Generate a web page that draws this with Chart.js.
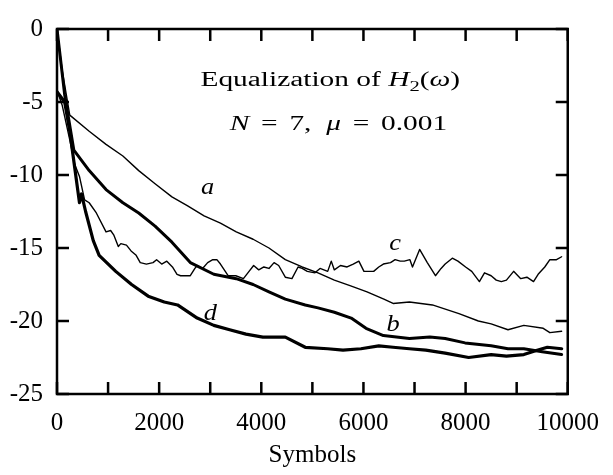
<!DOCTYPE html>
<html>
<head>
<meta charset="utf-8">
<script src="https://cdn.jsdelivr.net/npm/chart.js@4.4.1/dist/chart.umd.min.js"></script>
<style>
  html, body { margin: 0; padding: 0; background: #fff; }
  #c { display: block; }
  .fl { font-family: 'Liberation Serif'; position: absolute; left: -9999px; }
</style>
</head>
<body>
<span class="fl">Symbols 0123</span><span class="fl" style="font-style:italic">abcd</span>
<canvas id="c" width="613" height="475"></canvas>
<script>
// ---- data ----
const aX = [0, 100, 250, 630, 960, 1290, 1600, 1920, 2250, 2550, 2880, 3200, 3510, 3840, 4150, 4470, 4800, 5110, 5430, 5750, 6070, 6400, 6580, 6900, 7350, 7870, 8250, 8500, 8830, 9140, 9520, 9650, 9880];
const aY = [0, -2.8, -5.9, -7.0, -7.9, -8.7, -9.7, -10.6, -11.5, -12.1, -12.8, -13.3, -13.9, -14.4, -15.0, -15.8, -16.3, -16.7, -17.2, -17.6, -18.0, -18.5, -18.8, -18.7, -18.9, -19.5, -20.0, -20.2, -20.6, -20.3, -20.5, -20.8, -20.7];

const bX = [0, 150, 330, 630, 960, 1290, 1600, 1920, 2250, 2610, 3070, 3510, 3840, 4150, 4470, 4860, 5110, 5430, 5760, 6050, 6390, 6900, 7300, 7600, 7990, 8500, 8830, 9140, 9500, 9880];
const bY = [0, -4.5, -8.3, -9.7, -11.0, -11.9, -12.6, -13.5, -14.6, -16.0, -16.8, -17.1, -17.5, -18.0, -18.5, -18.9, -19.1, -19.4, -19.8, -20.5, -21.0, -21.2, -21.1, -21.2, -21.5, -21.7, -21.9, -21.9, -22.1, -22.3];

const cX = [0, 100, 250, 350, 440, 540, 630, 770, 960, 1050, 1110, 1200, 1250, 1360, 1450, 1550, 1630, 1750, 1880, 1950, 2050, 2150, 2260, 2350, 2420, 2610, 2700, 2745, 2850, 2950, 3050, 3130, 3200, 3350, 3500, 3650, 3760, 3850, 3950, 4050, 4150, 4250, 4340, 4470, 4600, 4720, 4800, 4900, 5050, 5150, 5300, 5370, 5430, 5550, 5680, 5800, 5910, 6010, 6200, 6300, 6390, 6530, 6620, 6720, 6800, 6910, 6960, 7100, 7250, 7410, 7520, 7600, 7740, 7850, 8000, 8120, 8270, 8370, 8500, 8600, 8700, 8800, 8940, 9080, 9200, 9330, 9420, 9550, 9650, 9780, 9880];
const cY = [-4.2, -5.2, -7.6, -9.3, -10.1, -11.7, -11.9, -12.6, -13.9, -13.8, -14.1, -14.9, -14.7, -14.8, -15.2, -15.5, -16.0, -16.1, -16.0, -15.8, -16.1, -15.9, -16.3, -16.8, -16.9, -16.9, -16.4, -16.2, -16.4, -16.0, -15.8, -15.8, -16.1, -16.9, -16.9, -17.1, -16.6, -16.2, -16.5, -16.3, -16.4, -16.0, -16.2, -17.0, -17.1, -16.3, -16.4, -16.6, -16.7, -16.4, -16.6, -15.9, -16.5, -16.2, -16.3, -16.1, -15.9, -16.6, -16.6, -16.3, -16.1, -16.0, -15.8, -15.9, -15.9, -15.8, -16.3, -15.1, -16.0, -16.9, -16.4, -16.1, -15.7, -15.9, -16.3, -16.6, -17.3, -16.7, -16.9, -17.2, -17.3, -17.2, -16.6, -17.1, -17.0, -17.3, -16.8, -16.3, -15.8, -15.8, -15.6];

const dX = [0, 150, 250, 440, 480, 560, 710, 825, 1150, 1460, 1785, 2100, 2360, 2745, 3070, 3380, 3700, 4030, 4470, 4860, 5300, 5600, 5950, 6300, 6580, 6900, 7220, 7600, 8060, 8500, 8800, 9140, 9400, 9600, 9880];
const dY = [-4.3, -5.0, -7.0, -11.9, -11.3, -12.5, -14.5, -15.5, -16.6, -17.5, -18.3, -18.7, -18.9, -19.8, -20.3, -20.6, -20.9, -21.1, -21.1, -21.8, -21.9, -22.0, -21.9, -21.7, -21.8, -21.9, -22.0, -22.2, -22.5, -22.3, -22.4, -22.3, -22.0, -21.8, -21.9];

const xTicksLabelled = [0, 2000, 4000, 6000, 8000, 10000];
const yTicks = [0, -5, -10, -15, -20, -25];
const curveNames = ['a', 'b', 'c', 'd'];
// label anchor for each curve name, in data units (symbols, dB)
const curveLabelAt = { a: [2950, -11.3], b: [6580, -20.7], c: [6620, -15.15], d: [3000, -19.95] };
const titleLine1 = [['Equalization of ', 'r'], ['H', 'i'], ['2', 'sub'], ['(', 'r'], ['\u03c9', 'i'], [')', 'r']];
const titleLine2 = [['N', 'i'], [0.4, 'gap'], ['=', 'r'], [0.4, 'gap'], ['7,', 'r'], [0.5, 'gap'], ['\u03bc', 'i'], [0.4, 'gap'], ['=', 'r'], [0.4, 'gap'], ['0.001', 'r']];
const xTitle = 'Symbols';

// ---- chart ----
const FONT = '"Liberation Serif", serif';
const pts = (xs, ys) => xs.map((v, i) => ({ x: v, y: ys[i] }));

function richDraw(ctx, segs, cx, baseline, size, sx) {
  const fontFor = (st) => st === 'i' ? `italic ${size}px ${FONT}` : (st === 'sub' ? `${Math.round(size * 0.7)}px ${FONT}` : `${size}px ${FONT}`);
  let total = 0;
  const widths = segs.map(([t, st]) => {
    if (st === 'gap') return t * size;
    ctx.font = fontFor(st);
    return ctx.measureText(t).width;
  });
  widths.forEach(w => total += w);
  ctx.save();
  ctx.translate(cx, baseline);
  ctx.scale(sx, 1);
  let xx = -total / 2;
  ctx.fillStyle = '#000';
  ctx.textBaseline = 'alphabetic';
  ctx.textAlign = 'left';
  segs.forEach(([t, st], i) => {
    if (st !== 'gap') {
      ctx.font = fontFor(st);
      ctx.fillText(t, xx, st === 'sub' ? size * 0.25 : 0);
    }
    xx += widths[i];
  });
  ctx.restore();
}

const framePlugin = {
  id: 'frameAndText',
  afterDatasetsDraw(chart) {
    const { ctx, chartArea: ca, scales: { x, y } } = chart;
    ctx.save();
    ctx.strokeStyle = '#000';
    ctx.lineWidth = 2.5;
    ctx.strokeRect(ca.left, ca.top, ca.right - ca.left, ca.bottom - ca.top);
    ctx.beginPath();
    const TL = 12;
    x.ticks.forEach(t => {
      const px = x.getPixelForValue(t.value);
      ctx.moveTo(px, ca.bottom); ctx.lineTo(px, ca.bottom - TL);
      ctx.moveTo(px, ca.top); ctx.lineTo(px, ca.top + TL);
    });
    y.ticks.forEach(t => {
      const py = y.getPixelForValue(t.value);
      ctx.moveTo(ca.left, py); ctx.lineTo(ca.left + TL, py);
      ctx.moveTo(ca.right, py); ctx.lineTo(ca.right - TL, py);
    });
    ctx.stroke();
    ctx.restore();

    richDraw(ctx, titleLine1, x.getPixelForValue(5350), y.getPixelForValue(-3.93), 20, 1.47);
    richDraw(ctx, titleLine2, x.getPixelForValue(5510), y.getPixelForValue(-6.93), 20, 1.47);

    curveNames.forEach(n => {
      const [vx, vy] = curveLabelAt[n];
      richDraw(ctx, [[n, 'i']], x.getPixelForValue(vx), y.getPixelForValue(vy), 24, 1.1);
    });
  }
};

function build() {
  new Chart(document.getElementById('c'), {
    type: 'scatter',
    data: {
      datasets: [
        { label: 'a', data: pts(aX, aY), borderWidth: 1.4 },
        { label: 'b', data: pts(bX, bY), borderWidth: 3 },
        { label: 'c', data: pts(cX, cY), borderWidth: 1.4 },
        { label: 'd', data: pts(dX, dY), borderWidth: 3.2 }
      ].map(ds => Object.assign(ds, {
        showLine: true, borderColor: '#000', backgroundColor: '#000',
        pointRadius: 0, pointHoverRadius: 0, tension: 0, fill: false,
        borderJoinStyle: 'round', borderCapStyle: 'round'
      }))
    },
    options: {
      responsive: false,
      animation: false,
      events: [],
      layout: { padding: { top: 19, right: 35, left: 0, bottom: 0 } },
      plugins: { legend: { display: false }, tooltip: { enabled: false }, title: { display: false } },
      scales: {
        x: {
          type: 'linear', min: 0, max: 10000,
          afterFit: s => { s.height = 81; },
          grid: { display: false, drawTicks: false },
          border: { display: false },
          ticks: {
            stepSize: 1000, autoSkip: false, maxRotation: 0, padding: 14,
            color: '#000', font: { family: FONT, size: 25, lineHeight: 1.2 },
            callback: v => xTicksLabelled.includes(v) ? String(v) : ''
          },
          title: { display: true, text: xTitle, color: '#000', font: { family: FONT, size: 25, lineHeight: 1.2 }, padding: { top: 0, bottom: 5 } }
        },
        y: {
          type: 'linear', min: -25, max: 0,
          afterFit: s => { s.width = 57; },
          grid: { display: false, drawTicks: false },
          border: { display: false },
          afterBuildTicks: s => { s.ticks = yTicks.map(v => ({ value: v })); },
          ticks: {
            padding: 14, color: '#000', font: { family: FONT, size: 25, lineHeight: 1.2 },
            callback: v => String(v)
          }
        }
      }
    },
    plugins: [framePlugin]
  });
}

Promise.all([
  document.fonts.load('24px "Liberation Serif"'),
  document.fonts.load('italic 24px "Liberation Serif"')
]).then(build, build);
</script>
</body>
</html>
